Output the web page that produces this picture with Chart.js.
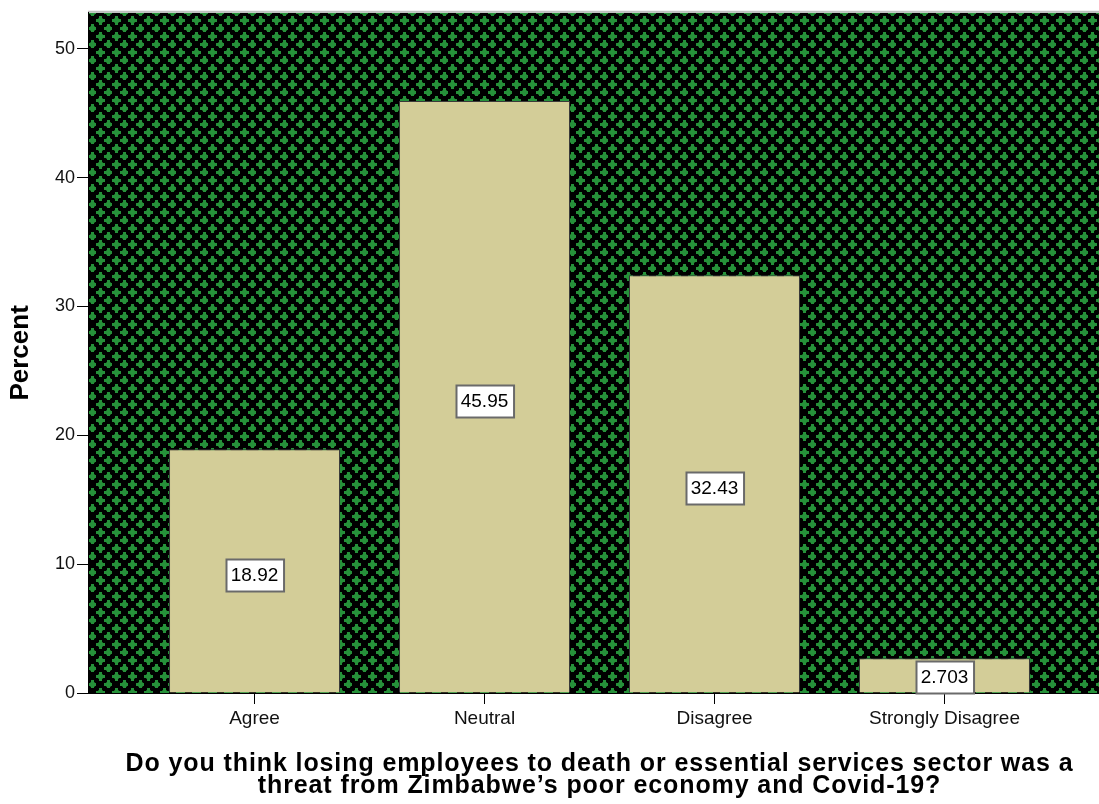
<!DOCTYPE html>
<html>
<head>
<meta charset="utf-8">
<script src="https://cdn.jsdelivr.net/npm/chart.js@4"></script>
<style>
  html, body { margin: 0; padding: 0; background: #fff; overflow: hidden; }
  #wrap { width: 1112px; height: 804px; position: relative; }
</style>
</head>
<body>
<div id="wrap"><canvas id="grafica"></canvas></div>
<script>
// datos
const categorias = ['Agree', 'Neutral', 'Disagree', 'Strongly Disagree'];
const porcentajes = [18.92, 45.95, 32.43, 2.703];
const etiquetasValor = ['18.92', '45.95', '32.43', '2.703'];
const ticksY = [0, 10, 20, 30, 40, 50];
const tituloX = ['Do you think losing employees to death or essential services sector was a',
                 'threat from Zimbabwe\u2019s poor economy and Covid-19?'];
const tituloY = 'Percent';

const fuente = '"Liberation Sans", Arial, sans-serif';

// patron verde/negro del fondo (cruces en diagonal)
function crearPatron(ctx) {
    const c = document.createElement('canvas');
    c.width = 16; c.height = 16;
    const g = c.getContext('2d');
    g.fillStyle = '#000';
    g.fillRect(0, 0, 16, 16);
    [[4, 4], [12, 12]].forEach(([cx, cy]) => {
        g.fillStyle = '#17611f';
        g.fillRect(cx - 2, cy - 2, 5, 5);
        g.fillStyle = '#26913a';
        g.fillRect(cx - 4, cy - 1, 9, 3);
        g.fillRect(cx - 1, cy - 4, 3, 9);
    });
    return ctx.createPattern(c, 'repeat');
}

const fondoPlugin = {
    id: 'fondo',
    beforeDraw(chart) {
        const { ctx, chartArea: a } = chart;
        ctx.save();
        ctx.fillStyle = crearPatron(ctx);
        ctx.fillRect(a.left, a.top, a.right - a.left, a.bottom - a.top);
        ctx.strokeStyle = '#bdbdbd';
        ctx.lineWidth = 2;
        ctx.beginPath();
        ctx.moveTo(a.left, a.top - 1);
        ctx.lineTo(a.right, a.top - 1);
        ctx.stroke();
        ctx.restore();
    }
};

// cajas blancas con el valor en el centro de cada barra
const etiquetasPlugin = {
    id: 'etiquetas',
    afterDatasetsDraw(chart) {
        const { ctx } = chart;
        const meta = chart.getDatasetMeta(0);
        const yScale = chart.scales.y;
        ctx.save();
        ctx.font = '19px ' + fuente;
        ctx.textAlign = 'center';
        ctx.textBaseline = 'middle';
        meta.data.forEach((bar, i) => {
            const texto = etiquetasValor[i];
            let cy = yScale.getPixelForValue(porcentajes[i] / 2) + 4;
            const w = ctx.measureText(texto).width + 10;
            const h = 32;
            if (cy + h / 2 > yScale.bottom) cy = yScale.bottom - h / 2;
            const x = Math.round(bar.x - w / 2) + 0.5;
            const y = Math.round(cy - h / 2) + 0.5;
            ctx.fillStyle = '#fff';
            ctx.fillRect(x, y, w, h);
            ctx.strokeStyle = '#6a6a6a';
            ctx.lineWidth = 2;
            ctx.strokeRect(x, y, w, h);
            ctx.fillStyle = '#000';
            ctx.fillText(texto, bar.x, cy + 1);
        });
        ctx.restore();
    }
};

// titulo del eje X, texto ancho como en SPSS
const tituloXPlugin = {
    id: 'tituloX',
    afterDraw(chart) {
        const { ctx, chartArea: a } = chart;
        ctx.save();
        ctx.font = 'bold 25px ' + fuente;
        if ('letterSpacing' in ctx) ctx.letterSpacing = '0.9px';
        ctx.fillStyle = '#000';
        ctx.textAlign = 'center';
        ctx.textBaseline = 'alphabetic';
        const cx = (a.left + a.right) / 2;
        ctx.fillText(tituloX[0], cx, 771);
        ctx.fillText(tituloX[1], cx, 793);
        ctx.restore();
    }
};

new Chart(document.getElementById('grafica'), {
    type: 'bar',
    data: {
        datasets: [{
            data: porcentajes.map((v, i) => ({ x: i, y: v })),
            backgroundColor: '#d3cd98',
            borderColor: '#3a3a3a',
            borderWidth: 1,
            borderSkipped: 'bottom',
            categoryPercentage: 1,
            barPercentage: 0.7435
        }]
    },
    options: {
        responsive: true,
        maintainAspectRatio: false,
        animation: false,
        layout: { padding: { top: 8, right: 1, bottom: 0, left: 0 } },
        plugins: { legend: { display: false }, tooltip: { enabled: false } },
        scales: {
            x: {
                type: 'linear',
                offset: false,
                min: -0.724,
                max: 3.724,
                afterBuildTicks: s => { s.ticks = categorias.map((c, i) => ({ value: i })); },
                afterFit: s => { s.height = 111; },
                grid: { display: true, offset: false, drawOnChartArea: false, drawTicks: true, tickLength: 11, color: '#000' },
                border: { display: true, color: '#000', width: 1 },
                ticks: {
                    callback: v => categorias[v],
                    color: '#111',
                    padding: 3,
                    maxRotation: 0,
                    autoSkip: false,
                    font: { family: fuente, size: 19 }
                },
                title: { display: false }
            },
            y: {
                min: 0,
                max: 52.8,
                afterBuildTicks: s => { s.ticks = ticksY.map(v => ({ value: v })); },
                afterFit: s => { s.width = 88; },
                grid: { display: true, drawOnChartArea: false, drawTicks: true, tickLength: 11, color: '#000' },
                border: { display: true, color: '#000', width: 1 },
                ticks: {
                    color: '#111',
                    padding: 2,
                    font: { family: fuente, size: 18 }
                },
                title: {
                    display: true,
                    text: tituloY,
                    color: '#000',
                    font: { family: fuente, size: 26, weight: 'bold' },
                    padding: { top: 5, bottom: 0 }
                }
            }
        }
    },
    plugins: [fondoPlugin, etiquetasPlugin, tituloXPlugin]
});
</script>
</body>
</html>
